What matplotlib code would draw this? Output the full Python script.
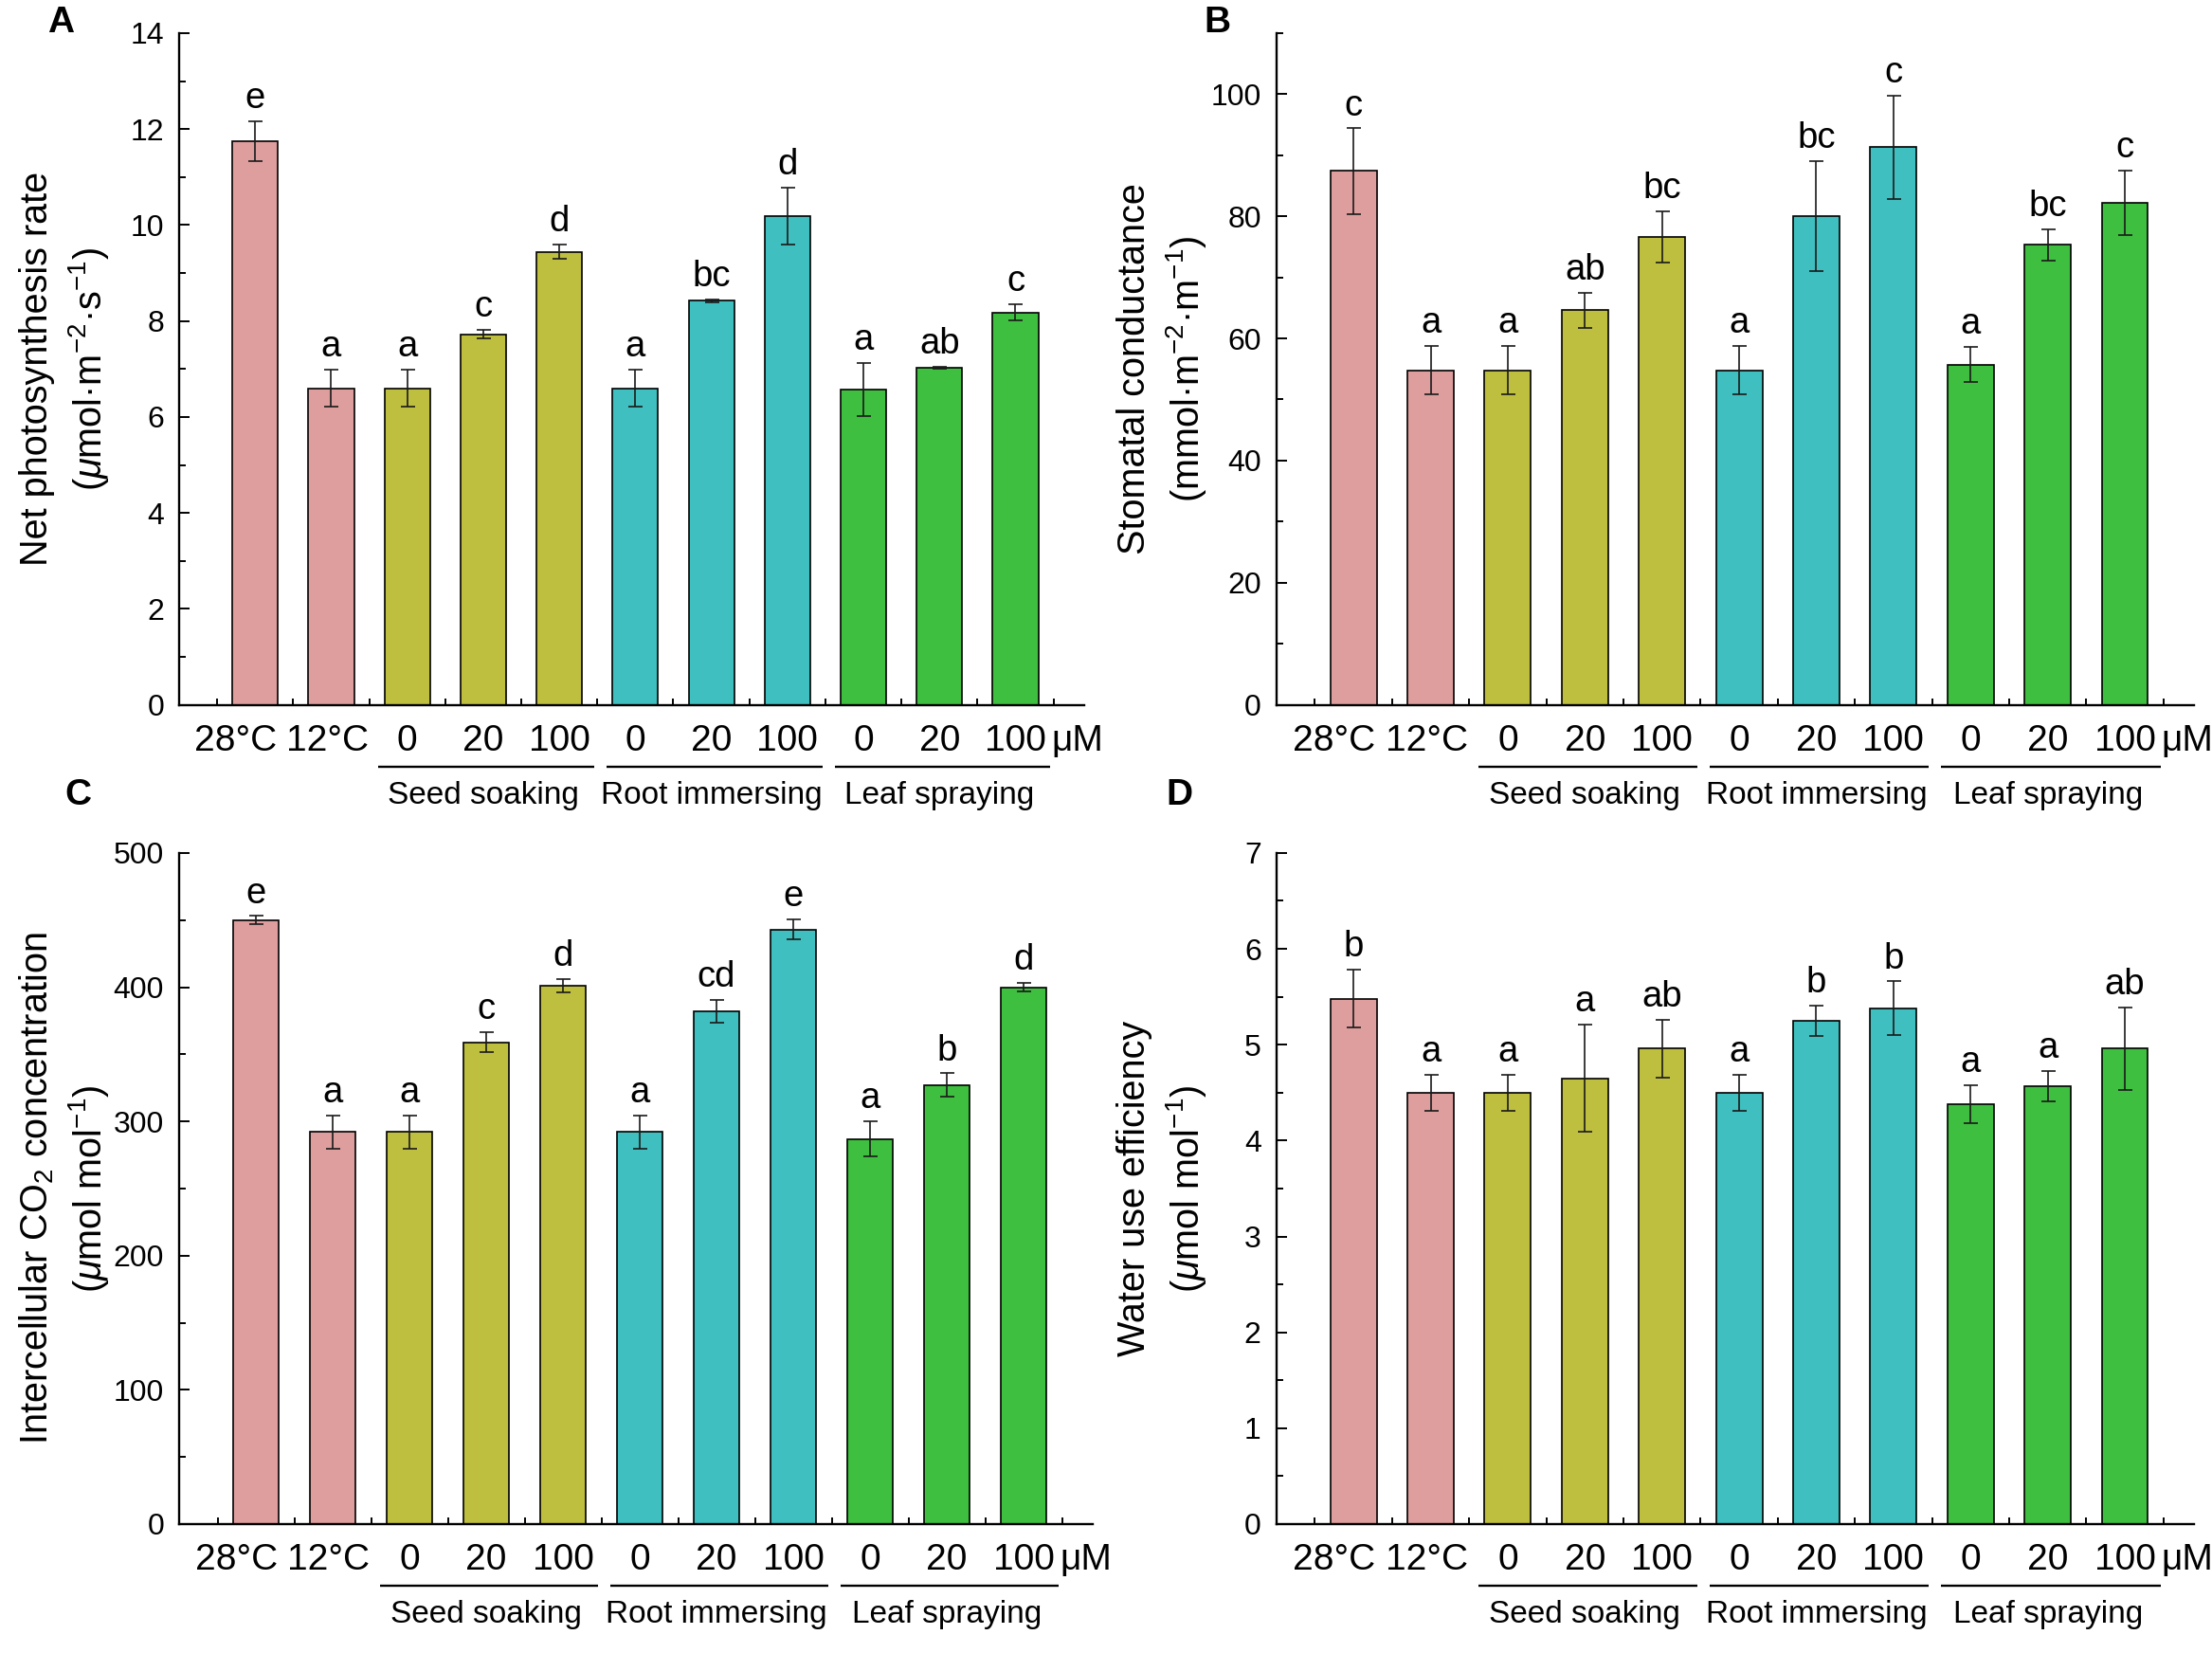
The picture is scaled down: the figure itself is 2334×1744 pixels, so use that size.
import numpy as np
import matplotlib
matplotlib.use('Agg')
import matplotlib.pyplot as plt
from matplotlib.ticker import MultipleLocator, FixedLocator

plt.rcParams['font.family'] = ['Liberation Sans', 'DejaVu Sans']
plt.rcParams['mathtext.fontset'] = 'custom'
plt.rcParams['mathtext.rm'] = 'Liberation Sans'
plt.rcParams['mathtext.it'] = 'Liberation Sans:italic'

# categories
tick_labels = ['28°C', '12°C', '0', '20', '100', '0', '20', '100', '0', '20', '100']
groups = ['Seed soaking', 'Root immersing', 'Leaf spraying']
group_idx = [[2, 3, 4], [5, 6, 7], [8, 9, 10]]
bar_colors = ['#DE9E9E'] * 2 + ['#BFBF3F'] * 3 + ['#3FBFBF'] * 3 + ['#3FBF3F'] * 3

# A: net photosynthesis rate
pn_mean = [11.75, 6.60, 6.60, 7.72, 9.44, 6.60, 8.42, 10.19, 6.57, 7.02, 8.18]
pn_err = [0.42, 0.38, 0.38, 0.09, 0.15, 0.38, 0.03, 0.59, 0.56, 0.02, 0.17]
pn_letters = ['e', 'a', 'a', 'c', 'd', 'a', 'bc', 'd', 'a', 'ab', 'c']

# B: stomatal conductance
gs_mean = [87.4, 54.8, 54.8, 64.6, 76.6, 54.8, 80.1, 91.3, 55.7, 75.3, 82.2]
gs_err = [7.0, 4.0, 4.0, 2.9, 4.2, 4.0, 9.0, 8.5, 2.9, 2.6, 5.3]
gs_letters = ['c', 'a', 'a', 'ab', 'bc', 'a', 'bc', 'c', 'a', 'bc', 'c']

# C: intercellular CO2
ci_mean = [450, 292, 292, 359, 401, 292, 382, 443, 287, 327, 400]
ci_err = [3, 12.5, 12.5, 7.6, 4.8, 12.5, 8.5, 7.6, 12.9, 8.8, 3]
ci_letters = ['e', 'a', 'a', 'c', 'd', 'a', 'cd', 'e', 'a', 'b', 'd']

# D: water use efficiency
wue_mean = [5.48, 4.50, 4.50, 4.65, 4.96, 4.50, 5.25, 5.38, 4.38, 4.57, 4.96]
wue_err = [0.30, 0.19, 0.19, 0.56, 0.30, 0.19, 0.16, 0.28, 0.20, 0.16, 0.43]
wue_letters = ['b', 'a', 'a', 'a', 'ab', 'a', 'b', 'b', 'a', 'a', 'ab']


def panel(ax, mean, err, letters, ymax, major, minor, label1, label2):
    x = np.arange(len(mean))
    ax.bar(x, mean, width=0.6, color=bar_colors, edgecolor='black',
           linewidth=1.2, zorder=2)
    ax.errorbar(x, mean, yerr=err, fmt='none', ecolor='#1a1a1a',
                elinewidth=1.2, capsize=5.4, capthick=1.2, zorder=3)
    for xi, m, e, t in zip(x, mean, err, letters):
        ax.annotate(t, (xi, m + e), xytext=(0, 10), textcoords='offset points',
                    ha='center', va='baseline', fontsize=27.5)

    ax.set_xlim(-1.0, 10.9)
    ax.set_ylim(0, ymax)
    ax.yaxis.set_major_locator(MultipleLocator(major))
    ax.yaxis.set_minor_locator(MultipleLocator(minor))
    ax.set_xticks(x)
    ax.set_xticklabels([])
    ax.xaxis.set_minor_locator(FixedLocator(np.arange(-0.5, 11, 1)))
    ax.tick_params(axis='x', which='major', length=0)
    ax.tick_params(axis='x', which='minor', direction='in', length=5, width=1.4)
    ax.tick_params(axis='y', which='major', direction='in', length=8, width=1.4,
                   labelsize=23, pad=11.5)
    ax.tick_params(axis='y', which='minor', direction='in', length=5, width=1.4)
    for s in ['top', 'right']:
        ax.spines[s].set_visible(False)
    for s in ['left', 'bottom']:
        ax.spines[s].set_linewidth(1.7)

    # category labels on one baseline; the two temperatures sit a bit left
    shifts = [-15, -3] + [0] * (len(tick_labels) - 2)
    for xi, lab, dx in zip(x, tick_labels, shifts):
        ax.annotate(lab, xy=(xi, 0), xycoords=('data', 'axes fraction'),
                    xytext=(dx, -34.6), textcoords='offset points',
                    ha='center', va='baseline', fontsize=28, annotation_clip=False)
    ax.annotate('μM', xy=(10.47, 0), xycoords=('data', 'axes fraction'),
                xytext=(0, -34.6), textcoords='offset points',
                ha='left', va='baseline', fontsize=28, annotation_clip=False)

    # two-line y label, baselines at fixed distance from the axis
    for txt, dx in [(label1, -100), (label2, -59)]:
        ax.annotate(txt, xy=(0, 0.5), xycoords='axes fraction',
                    xytext=(dx, 0), textcoords='offset points',
                    rotation=90, rotation_mode='anchor',
                    ha='center', va='baseline', fontsize=28.5)

    # treatment groups under the axis
    trans = ax.get_xaxis_transform()
    for name, idx in zip(groups, group_idx):
        ax.plot([idx[0] - 0.38, idx[-1] + 0.46], [-0.092, -0.092], transform=trans,
                color='black', lw=1.7, clip_on=False, solid_capstyle='butt')
        ax.annotate(name, xy=(np.mean(idx), 0), xycoords=('data', 'axes fraction'),
                    xytext=(0, -75), textcoords='offset points',
                    ha='center', va='baseline', fontsize=24, annotation_clip=False)


fig = plt.figure(figsize=(23.34, 17.44), dpi=100)
axA = fig.add_axes([0.081, 0.5736, 0.409, 0.4064])
axB = fig.add_axes([0.577, 0.5736, 0.415, 0.4064])
axC = fig.add_axes([0.081, 0.078, 0.413, 0.406])
axD = fig.add_axes([0.577, 0.078, 0.415, 0.406])

panel(axA, pn_mean, pn_err, pn_letters, 14, 2, 1,
      'Net photosynthesis rate', r'($\mathit{\mu}$mol·m$^{-2}$·s$^{-1}$)')
panel(axB, gs_mean, gs_err, gs_letters, 110, 20, 10,
      'Stomatal conductance', r'(mmol·m$^{-2}$·m$^{-1}$)')
panel(axC, ci_mean, ci_err, ci_letters, 500, 100, 50,
      r'Intercellular CO$_2$ concentration', r'($\mathit{\mu}$mol mol$^{-1}$)')
panel(axD, wue_mean, wue_err, wue_letters, 7, 1, 0.5,
      'Water use efficiency', r'($\mathit{\mu}$mol mol$^{-1}$)')

for tag, (tx, ty) in zip('ABCD', [(0.0274, 0.986), (0.5505, 0.986),
                                  (0.0355, 0.519), (0.533, 0.519)]):
    fig.text(tx, ty, tag, fontsize=28, fontweight='bold', ha='center', va='center')

fig.savefig('out.png', dpi=100)
